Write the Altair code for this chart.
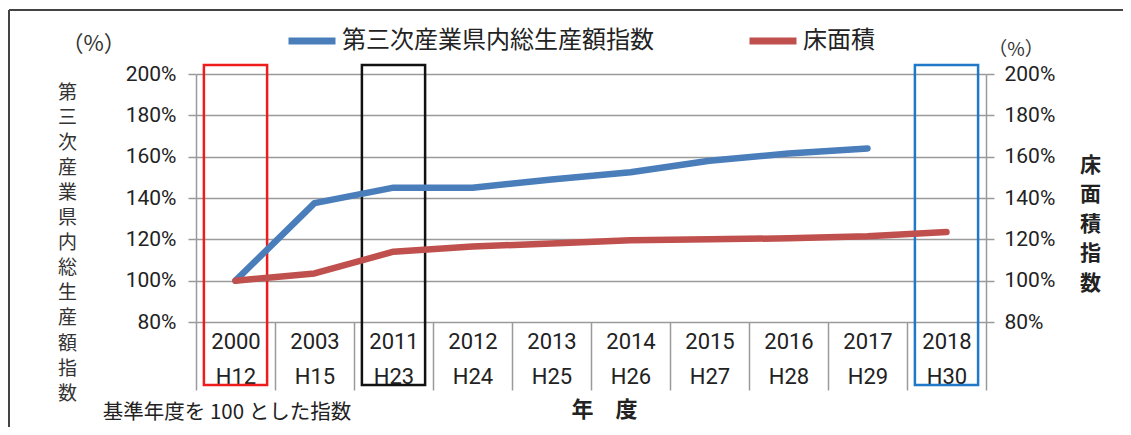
import altair as alt
import pandas as pd

# ---- data ----
years = ["2000", "2003", "2011", "2012", "2013", "2014", "2015", "2016", "2017", "2018"]
heisei = ["H12", "H15", "H23", "H24", "H25", "H26", "H27", "H28", "H29", "H30"]
gdp_index = [100, 137.5, 145, 145, 149, 152.5, 158, 161.5, 164, None]
floor_index = [100, 103.5, 114, 116.5, 118, 119.5, 120, 120.5, 121.5, 123.5]
series_names = ["第三次産業県内総生産額指数", "床面積"]
y_ticks = [80, 100, 120, 140, 160, 180, 200]
boxed_years = ["2000", "2011", "2018"]

labels = [f"{y}\n{h}" for y, h in zip(years, heisei)]
df = pd.DataFrame({
    "cat": labels * 2,
    "series": [series_names[0]] * len(years) + [series_names[1]] * len(years),
    "value": gdp_index + floor_index,
}).dropna()

CJK = "Noto Sans CJK JP"
NUM = "Roboto"
BLUE = "#4a7ebb"
RED = "#c0504d"
GRID = "#9a9a9a"

x_enc = alt.X(
    "cat:N", sort=labels,
    scale=alt.Scale(paddingInner=0, paddingOuter=0),
    axis=alt.Axis(
        labelExpr="split(datum.label, '\\n')",
        labelAngle=0, labelFont=NUM, labelFontSize=22, labelColor="#222",
        labelLineHeight=35, labelBaseline="top", labelPadding=-59,
        tickBand="extent", tickSize=68, tickColor=GRID, tickWidth=1.5,
        domain=False, grid=False,
        title="年　度", titleFont=CJK, titleFontSize=22, titleFontWeight="bold",
        titleColor="#222", titleX=408, titleY=87, titleBaseline="middle",
        titleAnchor="start", titleAlign="center",
    ),
)

y_scale = alt.Scale(domain=[80, 200], nice=False, zero=False)

left_axis = alt.Axis(
    orient="left", values=y_ticks, labelExpr="datum.value + '%'",
    labelFont=NUM, labelFontSize=21, labelColor="#222", labelPadding=12,
    tickSize=8, tickColor=GRID, tickWidth=1.5,
    domainColor=GRID, domainWidth=1.5,
    grid=True, gridColor=GRID, gridWidth=1.5,
    title=list(series_names[0]), titleAngle=0, titleFont=CJK, titleFontSize=19,
    titleFontWeight="normal", titleColor="#333", titleLineHeight=25.1,
    titleX=-129, titleY=18, titleAlign="center", titleBaseline="middle",
)
right_axis = alt.Axis(
    orient="right", values=y_ticks, labelExpr="datum.value + '%'",
    labelFont=NUM, labelFontSize=21, labelColor="#222", labelPadding=10,
    tickSize=8, tickColor=GRID, tickWidth=1.5,
    domainColor=GRID, domainWidth=1.5, grid=False,
    title=list("床面積指数"), titleAngle=0, titleFont=CJK, titleFontSize=21,
    titleFontWeight="bold", titleColor="#222", titleLineHeight=29.5,
    titleX=104, titleY=91, titleAlign="center", titleBaseline="middle",
)

color_enc = alt.Color(
    "series:N",
    scale=alt.Scale(domain=series_names, range=[BLUE, RED]),
    legend=alt.Legend(
        title=None, orient="none", legendX=89, legendY=-60, direction="horizontal",
        symbolType="stroke", symbolSize=2209, symbolStrokeWidth=7,
        labelFont=CJK, labelFontSize=24, labelColor="#222", labelOffset=3,
        labelLimit=600, columnPadding=81,
    ),
)

gdp_line = alt.Chart(df).transform_filter(
    alt.datum.series == series_names[0]
).mark_line(strokeWidth=6.5, strokeCap="round", strokeJoin="round").encode(
    x=x_enc, y=alt.Y("value:Q", scale=y_scale, axis=left_axis), color=color_enc
)
floor_line = alt.Chart(df).transform_filter(
    alt.datum.series == series_names[1]
).mark_line(strokeWidth=6.5, strokeCap="round", strokeJoin="round").encode(
    x=x_enc, y=alt.Y("value:Q", scale=y_scale, axis=right_axis), color=color_enc
)


def box(year, color):
    lab = labels[years.index(year)]
    return alt.Chart(pd.DataFrame({"cat": [lab]})).mark_bar(
        width=alt.RelativeBandSize(0.8), fillOpacity=0, stroke=color, strokeWidth=2.5
    ).encode(x=x_enc, y=alt.value(-9), y2=alt.value(311))


box_colors = ["#ee1c1c", "#111111", "#1f78c8"]
boxes = [box(y, c) for y, c in zip(boxed_years, box_colors)]

one = alt.Data(values=[{}])


def txt(text, x, y, size, weight="normal", color="#333"):
    return alt.Chart(one).mark_text(
        text=text, font=CJK, fontSize=size, fontWeight=weight, color=color,
        align="center", baseline="middle"
    ).encode(x=alt.value(x), y=alt.value(y))


pct_left = txt("（%）", -102.5, -30, 22)
pct_right = txt("（%）", 820, -24, 19)
note = txt("基準年度を 100 とした指数", 31, 339, 20.5, color="#222")

top_border = alt.Chart(one).mark_rule(color="#444", strokeWidth=2).encode(
    x=alt.value(-187), x2=alt.value(927), y=alt.value(-64)
)
left_border = alt.Chart(one).mark_rule(color="#444", strokeWidth=2).encode(
    x=alt.value(-187), y=alt.value(-64), y2=alt.value(360)
)

chart = alt.layer(
    top_border, left_border, *boxes, gdp_line, floor_line, pct_left, pct_right, note
).resolve_scale(
    y="independent"
).properties(
    width=790, height=248,
    padding={"left": 188, "top": 66, "right": 137, "bottom": 105},
    autosize=alt.AutoSizeParams(type="none"),
    background="white",
).configure_view(stroke=None)

chart.save("out.html", embed_options={"renderer": "svg", "actions": False})
